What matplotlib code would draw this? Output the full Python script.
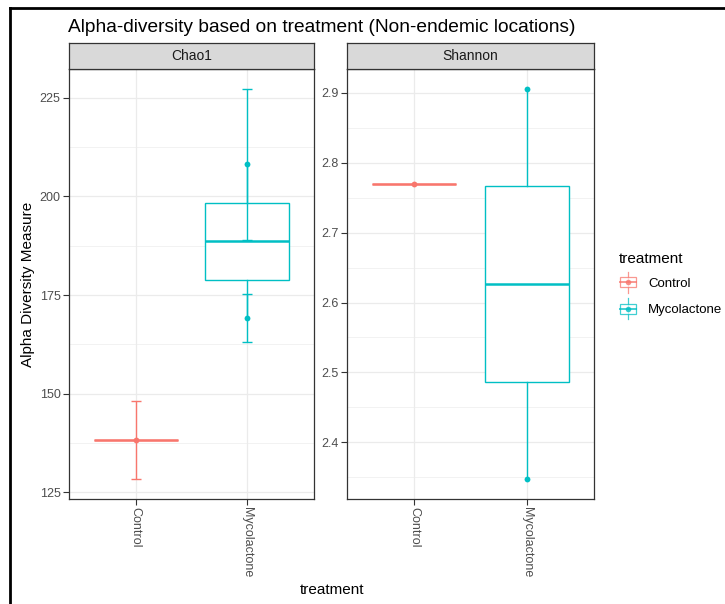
import matplotlib
matplotlib.use("Agg")
import matplotlib.pyplot as plt
from matplotlib.legend_handler import HandlerBase
from matplotlib.patches import Rectangle
from matplotlib.lines import Line2D

plt.rcParams['font.family'] = ['Liberation Sans', 'DejaVu Sans']

# richness estimates per treatment
treatments = ['Control', 'Mycolactone']
colors = ['#F8766D', '#00BFC4']

chao1_control = [138.2]
chao1_control_se = [9.9]
chao1_myco = [208.1, 169.1]
chao1_myco_se = [19.2, 6.1]

shannon_control = [2.770]
shannon_myco = [2.906, 2.347]

chao1_ticks = [125, 150, 175, 200, 225]
shannon_ticks = [2.4, 2.5, 2.6, 2.7, 2.8, 2.9]

W, H = 725, 604
fig = plt.figure(figsize=(W / 100, H / 100), dpi=100)

panel_bottom = 1 - 499 / H
panel_top = 1 - 69 / H
strip_h = 26 / H


def px_axes(x0, x1):
    return fig.add_axes([x0 / W, panel_bottom, (x1 - x0) / W, panel_top - panel_bottom])


def draw_panel(ax, groups, errors, ticks, title):
    allv = []
    for i, (vals, col) in enumerate(zip(groups, colors)):
        pos = i + 1
        ax.boxplot([vals], positions=[pos], widths=0.75, patch_artist=True,
                   showcaps=False, showfliers=False, whis=1.5,
                   boxprops=dict(facecolor='white', edgecolor=col, lw=1.0),
                   medianprops=dict(color=col, lw=1.8),
                   whiskerprops=dict(color=col, lw=1.0), zorder=2)
        if errors is not None:
            ax.errorbar([pos] * len(vals), vals, yerr=errors[i], fmt='none',
                        ecolor=col, elinewidth=1.0, capsize=3.6, capthick=1.0, zorder=3)
            allv += [v - e for v, e in zip(vals, errors[i])]
            allv += [v + e for v, e in zip(vals, errors[i])]
        ax.plot([pos] * len(vals), vals, 'o', color=col, ms=4.2, mec='none', zorder=4)
        allv += list(vals)
    ax.set_yticks(ticks)
    step = ticks[1] - ticks[0]
    ax.set_yticks([t - step / 2 for t in ticks] + [ticks[-1] + step / 2], minor=True)
    ax.set_yticklabels([f'{t:g}' if step >= 1 else f'{t:.1f}' for t in ticks])
    ax.set_xticks([1, 2])
    ax.set_xticklabels(treatments, rotation=270, va='top', ha='center')
    # 5% padding around the data range, as in ggplot
    lo, hi = min(allv), max(allv)
    pad = (hi - lo) * 0.05
    ax.set_ylim(lo - pad, hi + pad)
    ax.set_xlim(0.4, 2.6)
    ax.grid(which='major', color='#EBEBEB', lw=0.9, zorder=0)
    ax.grid(which='minor', axis='y', color='#EBEBEB', lw=0.45, zorder=0)
    ax.set_axisbelow(True)
    ax.tick_params(which='major', length=4, width=0.8, color='#333333',
                   labelcolor='#4D4D4D', labelsize=9, pad=2)
    ax.tick_params(which='minor', length=0)
    for s in ax.spines.values():
        s.set_color('#333333')
        s.set_linewidth(0.9)

    # facet strip
    pos = ax.get_position()
    sax = fig.add_axes([pos.x0, pos.y1, pos.width, strip_h])
    sax.set_facecolor('#D9D9D9')
    sax.set_xticks([])
    sax.set_yticks([])
    for s in sax.spines.values():
        s.set_color('#333333')
        s.set_linewidth(0.9)
    sax.text(0.5, 0.5, title, ha='center', va='center', fontsize=10,
             color='#1A1A1A', transform=sax.transAxes)


ax1 = px_axes(69, 314)
draw_panel(ax1, [chao1_control, chao1_myco], [chao1_control_se, chao1_myco_se],
           chao1_ticks, 'Chao1')
ax2 = px_axes(347, 594)
draw_panel(ax2, [shannon_control, shannon_myco], None, shannon_ticks, 'Shannon')

fig.text(68 / W, 1 - 27 / H, 'Alpha-diversity based on treatment (Non-endemic locations)',
         ha='left', va='center', fontsize=13.8, color='black')
fig.text(28 / W, 1 - 284 / H, 'Alpha Diversity Measure', rotation=90,
         ha='center', va='center', fontsize=11)
fig.text(332 / W, 1 - 590 / H, 'treatment', ha='center', va='center', fontsize=11)


class BoxKey(HandlerBase):
    def create_artists(self, legend, orig_handle, xdescent, ydescent,
                       width, height, fontsize, trans):
        col = orig_handle.get_color()
        x0, y0 = -xdescent, -ydescent
        cx = x0 + width / 2
        cy = y0 + height / 2
        arts = [
            Line2D([cx, cx], [y0, y0 + height], color=col, lw=0.9, alpha=0.75),
            Rectangle((x0 + width * 0.05, y0 + height * 0.25), width * 0.9, height * 0.5,
                      facecolor='white', edgecolor=col, lw=0.9, alpha=0.75),
            Line2D([x0 + width * 0.05, x0 + width * 0.95], [cy, cy], color=col, lw=1.4, alpha=0.75),
            Line2D([cx], [cy], marker='o', ms=4, color=col, mec='none', alpha=0.8),
        ]
        for a in arts:
            a.set_transform(trans)
        return arts


handles = [Line2D([], [], color=c) for c in colors]
leg = fig.legend(handles, treatments, handler_map={Line2D: BoxKey()},
                 title='treatment', loc='upper left',
                 bbox_to_anchor=(610 / W, 1 - 243 / H), frameon=False,
                 fontsize=9.5, title_fontsize=11, handlelength=1.3, handleheight=2.0,
                 handletextpad=0.9, labelspacing=0.45, alignment='left', borderpad=0.2)

# outer frame
fig.add_artist(Line2D([10 / W, 10 / W], [0, 1 - 8 / H], color='black', lw=2,
                      transform=fig.transFigure))
fig.add_artist(Line2D([10 / W, 1], [1 - 8 / H, 1 - 8 / H], color='black', lw=2,
                      transform=fig.transFigure))

fig.savefig('out.png', dpi=100)
